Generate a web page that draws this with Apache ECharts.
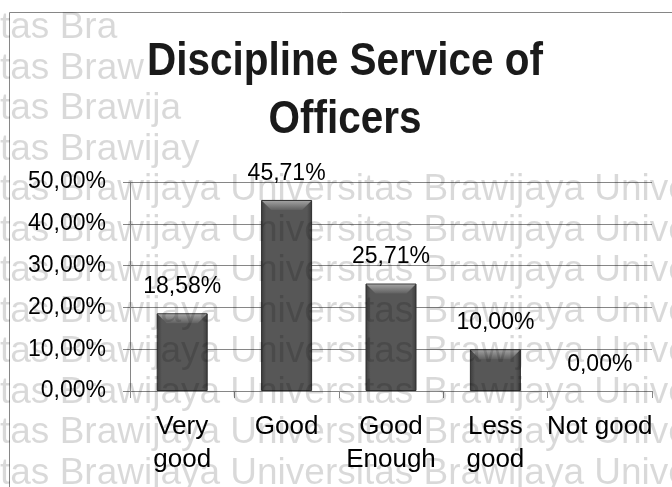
<!DOCTYPE html>
<html>
<head>
<meta charset="utf-8">
<style>
  html, body { margin: 0; padding: 0; background: #ffffff; }
  #chart { width: 672px; height: 487px; }
</style>
<script src="https://cdn.jsdelivr.net/npm/echarts@6/dist/echarts.min.js"></script>
</head>
<body>
<div id="chart"></div>
<script>
// Ratings of officers' service discipline (share of respondents, %)
const categories = ['Very\ngood', 'Good', 'Good\nEnough', 'Less\ngood', 'Not good'];
const shares = [18.58, 45.71, 25.71, 10.00, 0.00];
const yTicks = { min: 0, max: 50, interval: 10 };

// Repeated watermark line printed over the sheet
const watermarkRows = [
  'tas Bra',
  'tas Braw',
  'tas Brawija',
  'tas Brawijay',
  'tas Brawijaya Universitas Brawijaya Universitas',
  'tas Brawijaya Universitas Brawijaya Universitas',
  'tas Brawijaya Universitas Brawijaya Universitas',
  'tas Brawijaya Universitas Brawijaya Universitas',
  'tas Brawijaya Universitas Brawijaya Universitas',
  'tas Brawijaya Universitas Brawijaya Universitas',
  'tas Brawijaya Universitas Brawijaya Universitas',
  'tas Brawijaya Universitas Brawijaya Universitas'
];

const pct = v => v.toFixed(2).replace('.', ',') + '%';
const SANS = "'Liberation Sans', Arial, sans-serif";

const chart = echarts.init(document.getElementById('chart'), null, { renderer: 'canvas' });

const watermark = watermarkRows.map((t, i) => ({
  type: 'text',
  silent: true,
  z: 100,
  x: 0,
  y: 28 + i * 40.5,
  style: {
    text: t,
    font: "37px 'Liberation Sans', Arial, sans-serif",
    fill: 'rgba(0,0,0,0.15)',
    textAlign: 'left',
    textVerticalAlign: 'middle'
  }
}));

// an empty category gets no visible bar, only its label
const barData = shares.map(v => v > 0 ? v : {
  value: v,
  itemStyle: { color: 'rgba(0,0,0,0)', borderWidth: 0 }
});

chart.setOption({
  animation: false,
  backgroundColor: '#ffffff',
  grid: { left: 130, right: 20, top: 182, bottom: 96, containLabel: false },
  xAxis: {
    type: 'category',
    data: categories,
    axisLine: { show: true, lineStyle: { color: '#868686', width: 1 } },
    axisTick: { show: true, alignWithLabel: false, length: 7, lineStyle: { color: '#868686' } },
    axisLabel: {
      interval: 0,
      margin: 19,
      color: '#000000',
      fontFamily: SANS,
      fontSize: 26,
      lineHeight: 33
    },
    splitLine: { show: false }
  },
  yAxis: {
    type: 'value',
    min: yTicks.min,
    max: yTicks.max,
    interval: yTicks.interval,
    axisLine: { show: true, lineStyle: { color: '#868686', width: 1 } },
    axisTick: { show: true, length: 7, lineStyle: { color: '#868686' } },
    axisLabel: {
      margin: 24,
      color: '#000000',
      fontFamily: SANS,
      fontSize: 23,
      formatter: v => pct(v)
    },
    splitLine: { show: true, lineStyle: { color: '#868686', width: 1 } }
  },
  series: [
    {
      type: 'bar',
      data: barData,
      barWidth: 51,
      z: 2,
      itemStyle: {
        color: new echarts.graphic.LinearGradient(0, 0, 1, 0, [
          { offset: 0, color: '#3c3c3c' },
          { offset: 0.1, color: '#575757' },
          { offset: 0.9, color: '#575757' },
          { offset: 1, color: '#3c3c3c' }
        ]),
        borderColor: '#2e2e2e',
        borderWidth: 1
      },
      label: {
        show: true,
        position: 'top',
        distance: 15,
        color: '#000000',
        fontFamily: SANS,
        fontSize: 23,
        formatter: p => pct(p.value)
      }
    },
    {
      // bevelled cap on top of each bar
      type: 'custom',
      z: 3,
      silent: true,
      data: shares.map((v, i) => [i, v]),
      renderItem: (params, api) => {
        const v = api.value(1);
        if (v <= 0) return null;
        const top = api.coord([api.value(0), v]);
        const base = api.coord([api.value(0), 0]);
        const w = 51;
        const l = top[0] - w / 2 + 1;
        const r = top[0] + w / 2 - 1;
        const t = top[1] + 1;
        const h = Math.min(9, (base[1] - top[1]) / 2);
        return {
          type: 'polygon',
          shape: { points: [[l, t], [r, t], [r - h, t + h], [l + h, t + h]] },
          style: {
            fill: new echarts.graphic.LinearGradient(0, 0, 0, 1, [
              { offset: 0, color: '#a0a0a0' },
              { offset: 1, color: '#606060' }
            ])
          }
        };
      }
    }
  ],
  graphic: [
    {
      type: 'rect',
      silent: true,
      z: 0,
      shape: { x: 9.5, y: 12.5, width: 700, height: 500 },
      style: { fill: null, stroke: '#868686', lineWidth: 1 }
    },
    {
      // condensed bold heading
      type: 'text',
      silent: true,
      z: 10,
      x: 345,
      y: 33,
      scaleX: 0.88,
      style: {
        text: 'Discipline Service of\nOfficers',
        font: "bold 46px 'Liberation Sans', Arial, sans-serif",
        lineHeight: 58,
        fill: '#1a1a1a',
        textAlign: 'center',
        textVerticalAlign: 'top'
      }
    }
  ].concat(watermark)
});
</script>
</body>
</html>
